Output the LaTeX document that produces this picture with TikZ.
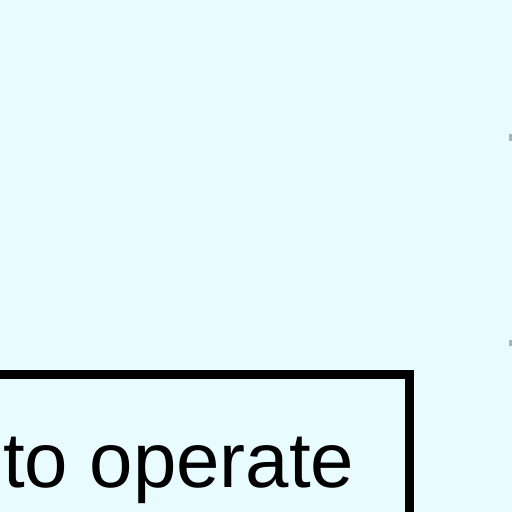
\documentclass[tikz,border=0pt]{standalone}
\usepackage{fontspec}
\setmainfont{Liberation Sans}
\definecolor{bgc}{RGB}{232,252,255}
\definecolor{markc}{RGB}{170,180,182}
\begin{document}
\begin{tikzpicture}[x=1pt,y=1pt,
  boxstyle/.style={draw=black,line width=9pt},
  lbl/.style={inner sep=0pt,anchor=base west,font=\fontsize{78}{90}\selectfont}]
\fill[bgc] (0,0) rectangle (512,512);
\useasboundingbox (0,0) rectangle (512,512);
\begin{scope}
\clip (0,0) rectangle (512,512);
\draw[boxstyle] (-30,-30) rectangle (409,137);
\node[lbl] (txt) at (3,24) {to operate};
\fill[markc] (509,371) rectangle (512,378);
\fill[markc] (509,166) rectangle (512,172);
\end{scope}
\end{tikzpicture}
\end{document}
